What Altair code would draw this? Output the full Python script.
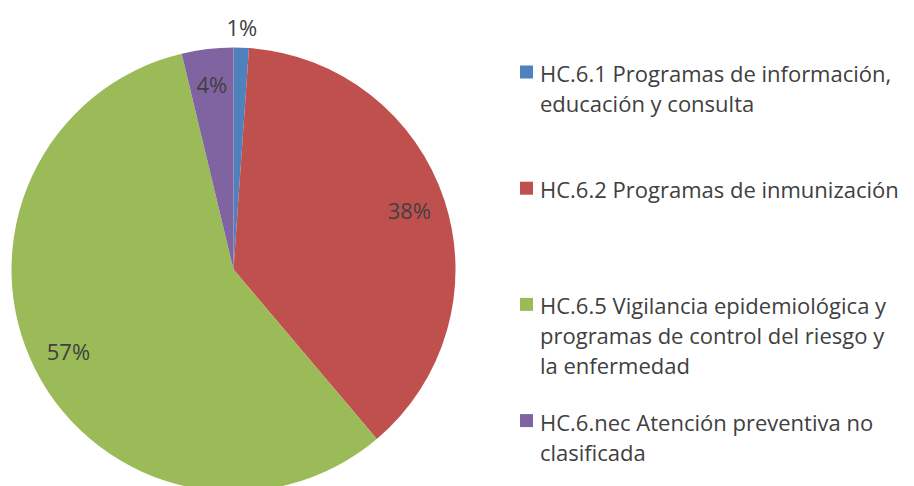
import altair as alt
import pandas as pd

# ---- data ----
categories = [
    "HC.6.1 Programas de información, educación y consulta",
    "HC.6.2 Programas de inmunización",
    "HC.6.5 Vigilancia epidemiológica y programas de control del riesgo y la enfermedad",
    "HC.6.nec Atención preventiva no clasificada",
]
shares = [1.11, 37.72, 57.42, 3.75]
colors = ["#4F81BD", "#C0504D", "#9BBB59", "#8064A2"]
legend_lines = [
    ["HC.6.1 Programas de información,", "educación y consulta"],
    ["HC.6.2 Programas de inmunización"],
    ["HC.6.5 Vigilancia epidemiológica y", "programas de control del riesgo y", "la enfermedad"],
    ["HC.6.nec Atención preventiva no", "clasificada"],
]

FONT = "Open Sans"
FS = 22
TXT = "#404040"

pie_df = pd.DataFrame({"cat": categories, "value": shares, "idx": list(range(len(categories)))})

leg_rows = []
for i, lines in enumerate(legend_lines):
    for j, line in enumerate(lines):
        leg_rows.append({"cat": categories[i], "entry": i, "line": j, "text": line})
leg_df = pd.DataFrame(leg_rows)
sq_df = pd.DataFrame({"cat": categories, "entry": list(range(len(categories)))})

CX, CY, R = 225.5, 261.5, 222

color_scale = alt.Scale(domain=categories, range=colors)

base = alt.Chart(pie_df).encode(
    theta=alt.Theta("value:Q", stack=True),
    order=alt.Order("idx:Q"),
    x=alt.value(CX),
    y=alt.value(CY),
)

pie = base.mark_arc(outerRadius=R).encode(
    color=alt.Color("cat:N", scale=color_scale, legend=None)
)

pct_calc = "format(datum.value / datum.total, '.0%')"

labels_in = base.transform_joinaggregate(total="sum(value)").transform_calculate(
    lab="datum.idx == 0 ? '' : " + pct_calc
).mark_text(radius=185, font=FONT, fontSize=FS, color=TXT, align="center", baseline="middle").encode(
    text="lab:N"
)

labels_out = base.transform_joinaggregate(total="sum(value)").transform_calculate(
    lab="datum.idx == 0 ? " + pct_calc + " : ''"
).mark_text(radius=241, font=FONT, fontSize=FS, color=TXT, align="center", baseline="middle").encode(
    text="lab:N"
)

squares = alt.Chart(sq_df).transform_calculate(
    ypos="64 + 116.2 * datum.entry"
).mark_square(size=169, opacity=1).encode(
    x=alt.value(518.5),
    y=alt.Y("ypos:Q", scale=None),
    color=alt.Color("cat:N", scale=color_scale, legend=None),
)

leg_text = alt.Chart(leg_df).transform_calculate(
    ypos="74 + 116.2 * datum.entry + 30 * datum.line"
).mark_text(font=FONT, fontSize=FS, color=TXT, align="left", baseline="alphabetic").encode(
    x=alt.value(532),
    y=alt.Y("ypos:Q", scale=None),
    text="text:N",
)

chart = alt.layer(pie, labels_in, labels_out, squares, leg_text).properties(
    width=898, height=478, padding=0, background="white",
    autosize=alt.AutoSizeParams(type="none"),
).configure_view(strokeWidth=0)

chart.save("out.html", embed_options={"renderer": "svg", "actions": False})
